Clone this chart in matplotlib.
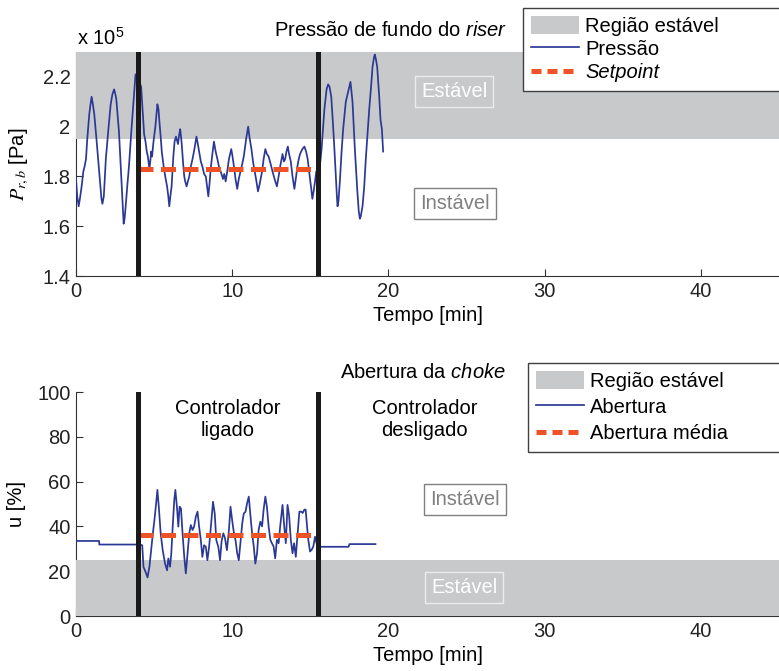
import matplotlib
matplotlib.use("Agg")
import matplotlib.pyplot as plt
from matplotlib.lines import Line2D
from matplotlib.patches import Patch

plt.rcParams["font.family"] = ["Liberation Sans", "DejaVu Sans"]
plt.rcParams["mathtext.fontset"] = "custom"
plt.rcParams["mathtext.rm"] = "Liberation Sans"
plt.rcParams["mathtext.it"] = "Liberation Sans:italic"

# riser bottom pressure [x 1e5 Pa] vs time [min]
t_p = [0.0, 0.08, 0.17, 0.25, 0.36, 0.47, 0.55, 0.64, 0.72, 0.85, 0.93, 1.0, 1.08, 1.17,
       1.31, 1.48, 1.63, 1.69, 1.78, 1.91, 2.06, 2.22, 2.33, 2.44, 2.52, 2.58, 2.75, 2.9,
       3.01, 3.05, 3.11, 3.18, 3.28, 3.39, 3.54, 3.69, 3.81, 3.9, 4.0, 4.11, 4.17, 4.28,
       4.36, 4.45, 4.53, 4.6, 4.66, 4.7, 4.77, 4.81, 4.87, 4.96, 5.08, 5.21, 5.28, 5.34,
       5.42, 5.49, 5.57, 5.66, 5.74, 5.83, 5.91, 5.97, 6.04, 6.12, 6.23, 6.31, 6.4, 6.53,
       6.61, 6.67, 6.74, 6.78, 6.86, 6.93, 6.99, 7.08, 7.16, 7.25, 7.35, 7.46, 7.58, 7.71,
       7.8, 7.88, 7.99, 8.09, 8.2, 8.31, 8.39, 8.47, 8.56, 8.62, 8.73, 8.83, 8.94, 9.05,
       9.15, 9.26, 9.41, 9.49, 9.58, 9.68, 9.79, 9.94, 10.02, 10.11, 10.21, 10.32, 10.42,
       10.53, 10.64, 10.74, 10.89, 11.02, 11.1, 11.23, 11.33, 11.44, 11.55, 11.65, 11.76,
       11.91, 12.01, 12.12, 12.22, 12.33, 12.46, 12.58, 12.71, 12.86, 12.97, 13.07, 13.22,
       13.31, 13.39, 13.47, 13.56, 13.64, 13.75, 13.86, 13.98, 14.09, 14.17, 14.26, 14.34,
       14.49, 14.62, 14.73, 14.83, 14.92, 14.98, 15.06, 15.13, 15.21, 15.3, 15.38, 15.5,
       15.61, 15.72, 15.9, 16.04, 16.14, 16.23, 16.34, 16.46, 16.55, 16.63, 16.7, 16.74,
       16.8, 16.89, 17.0, 17.1, 17.27, 17.42, 17.5, 17.57, 17.62, 17.7, 17.85, 18.0, 18.1,
       18.17, 18.23, 18.34, 18.45, 18.55, 18.77, 18.9, 18.98, 19.08, 19.13, 19.2, 19.28,
       19.41, 19.49, 19.58, 19.66]
p_rb = [1.79, 1.72, 1.68, 1.71, 1.76, 1.82, 1.84, 1.87, 1.95, 2.05, 2.09, 2.12, 2.09, 2.05,
        1.95, 1.82, 1.71, 1.69, 1.72, 1.87, 1.98, 2.09, 2.13, 2.15, 2.13, 2.11, 1.98, 1.8,
        1.66, 1.61, 1.63, 1.68, 1.76, 1.84, 1.98, 2.11, 2.21, 2.18, 2.19, 2.17, 2.16, 2.05,
        1.97, 1.94, 1.9, 1.88, 1.85, 1.83, 1.87, 1.9, 1.88, 1.94, 2.0, 2.09, 2.07, 2.02,
        1.96, 1.9, 1.86, 1.82, 1.79, 1.76, 1.72, 1.68, 1.72, 1.76, 1.88, 1.94, 1.96, 1.93,
        1.97, 1.99, 1.95, 1.92, 1.85, 1.8, 1.78, 1.76, 1.78, 1.8, 1.84, 1.87, 1.91, 1.96,
        1.93, 1.9, 1.86, 1.84, 1.81, 1.8, 1.76, 1.72, 1.78, 1.83, 1.89, 1.94, 1.9, 1.87,
        1.84, 1.82, 1.79, 1.81, 1.78, 1.82, 1.87, 1.91, 1.88, 1.84, 1.79, 1.75, 1.79,
        1.82, 1.85, 1.88, 1.95, 2.0, 1.96, 1.91, 1.86, 1.82, 1.78, 1.74, 1.77,
        1.82, 1.87, 1.91, 1.89, 1.88, 1.85, 1.82, 1.79, 1.76, 1.8, 1.84, 1.89,
        1.86, 1.87, 1.9, 1.92, 1.89, 1.86, 1.8, 1.75, 1.8, 1.84, 1.87, 1.89,
        1.91, 1.92, 1.9, 1.87, 1.82, 1.79, 1.75, 1.71, 1.74, 1.78, 1.82, 1.83,
        1.84, 1.91, 2.07, 2.15, 2.17, 2.16, 2.12, 2.0, 1.9, 1.8, 1.72, 1.68,
        1.7, 1.78, 1.9, 1.99, 2.1, 2.14, 2.16, 2.18, 2.15, 2.1, 1.91, 1.75, 1.66,
        1.63, 1.64, 1.68, 1.76, 1.87, 2.07, 2.17, 2.24, 2.28, 2.29, 2.27, 2.24,
        2.12, 2.03, 1.99, 1.9]
setpoint = 1.83

# choke opening u [%] vs time [min]
t_u = [0.0, 1.48, 1.49, 4.0, 4.24, 4.32, 4.41, 4.49, 4.58, 4.7, 4.81, 4.92, 5.02, 5.13,
       5.21, 5.3, 5.42, 5.55, 5.7, 5.83, 5.91, 6.02, 6.1, 6.19, 6.29, 6.36, 6.46, 6.55,
       6.63, 6.72, 6.82, 6.93, 7.03, 7.14, 7.25, 7.35, 7.46, 7.56, 7.67, 7.78, 7.88, 7.99,
       8.09, 8.2, 8.31, 8.41, 8.52, 8.67, 8.77, 8.88, 8.98, 9.11, 9.22, 9.32, 9.43, 9.53,
       9.66, 9.79, 9.89, 10.0, 10.11, 10.21, 10.32, 10.42, 10.53, 10.64, 10.74, 10.85,
       10.95, 11.06, 11.17, 11.27, 11.38, 11.48, 11.59, 11.69, 11.8, 11.91, 12.01, 12.12,
       12.22, 12.33, 12.44, 12.54, 12.65, 12.75, 12.86, 12.97, 13.07, 13.22, 13.33, 13.43,
       13.54, 13.64, 13.75, 13.86, 13.96, 14.07, 14.17, 14.3, 14.41, 14.51, 14.62, 14.7,
       14.79, 14.87, 14.98, 15.08, 15.19, 15.3, 15.45, 15.6, 17.45, 17.5, 19.17]
u_pct = [33.5, 33.5, 31.9, 31.9, 31.6, 21.9, 20.4, 19.0, 17.2, 22.0, 29.4, 36.9, 42.8, 50.3,
         56.3, 48.8, 36.9, 29.4, 23.4, 20.4, 25.7, 22.0, 27.9, 39.9, 51.8, 56.3, 48.8, 39.9,
         48.8, 48.0, 36.9, 26.4, 19.0, 27.9, 36.9, 40.6, 38.4, 39.9, 44.3, 46.6, 39.9, 33.9,
         26.4, 31.6, 30.9, 24.9, 30.9, 42.8, 51.0, 45.8, 33.9, 30.9, 24.9, 33.5, 36.9, 35.0,
         29.4, 38.4, 48.8, 42.5, 37.0, 33.9, 28.0, 24.9, 33.0, 41.3, 45.8, 46.5,
         50.3, 53.3, 44.5, 37.0, 31.0, 23.4, 28.0, 38.4, 42.1, 40.0, 47.5, 53.3,
         48.8, 40.0, 34.0, 32.5, 31.0, 25.7, 34.0, 32.5, 40.0, 49.6, 40.0, 32.5,
         49.6, 45.0, 34.0, 28.0, 32.5, 26.4, 35.4, 46.6, 46.6, 46.0, 47.5, 47.5,
         40.0, 34.0, 28.8, 29.5, 31.0, 35.4, 31.0, 30.9, 30.9, 32.1, 32.1]
u_mean = 36.0

switch_times = [4.0, 15.5]
stable_p = (1.95, 2.3)
stable_u = (0, 25)

gray = "#c8c9cb"
blue = "#2b3896"
red = "#ef5226"
fs = 14.5

fig = plt.figure(figsize=(7.79, 6.71), dpi=100)
ax1 = fig.add_axes([76 / 779, 1 - 276 / 671, 1 - 76 / 779, 224 / 671])
ax2 = fig.add_axes([76 / 779, 1 - 616 / 671, 1 - 76 / 779, 224 / 671])


def style_axis(ax):
    for side in ("top", "right"):
        ax.spines[side].set_visible(False)
    for side in ("left", "bottom"):
        ax.spines[side].set_color("#333333")
        ax.spines[side].set_linewidth(0.8)
    ax.tick_params(direction="in", length=5, width=0.8, color="#333333",
                   labelsize=fs, labelcolor="#222222", pad=4)
    ax.set_xlim(0, 45)
    ax.set_xticks([0, 10, 20, 30, 40])
    ax.set_xlabel("Tempo [min]", fontsize=fs, labelpad=4)


def boxed_label(ax, x, y, text, color, edge):
    ax.text(x, y, text, ha="center", va="center", fontsize=fs, color=color, zorder=6,
            bbox=dict(boxstyle="square,pad=0.3", facecolor="none", edgecolor=edge, linewidth=1))


# top: riser bottom pressure
style_axis(ax1)
ax1.axhspan(*stable_p, color=gray, lw=0, zorder=2.6)
ax1.plot(t_p, p_rb, color=blue, lw=1.25, zorder=4)
ax1.plot([switch_times[0], switch_times[1]], [setpoint, setpoint], color=red, lw=3.6,
         dashes=(3, 1.5), zorder=5)
for ts in switch_times:
    ax1.axvline(ts, color="#1a1a1a", lw=3.6, zorder=6)
ax1.set_ylim(1.4, 2.3)
ax1.set_yticks([1.4, 1.6, 1.8, 2.0, 2.2])
ax1.set_yticklabels(["1.4", "1.6", "1.8", "2", "2.2"])
ax1.set_ylabel(r"$P_{r,b}$ [Pa]", fontsize=fs, labelpad=8, math_fontfamily="stix")
boxed_label(ax1, 24.2, 2.143, "Estável", "white", "#ececec")
boxed_label(ax1, 24.25, 1.692, "Instável", "#808080", "#808080")
fig.text(77 / 779, 1 - 38 / 671, r"x 10$^{5}$", fontsize=fs, va="center", ha="left")
fig.text(507 / 779, 1 - 30 / 671, r"Pressão de fundo do $\mathit{riser}$", fontsize=fs,
         ha="right", va="center")

# bottom: choke opening
style_axis(ax2)
ax2.axhspan(*stable_u, color=gray, lw=0, zorder=2.6)
ax2.plot(t_u, u_pct, color=blue, lw=1.25, zorder=4)
ax2.plot([switch_times[0], switch_times[1]], [u_mean, u_mean], color=red, lw=3.6,
         dashes=(3, 1.5), zorder=5)
for ts in switch_times:
    ax2.axvline(ts, color="#1a1a1a", lw=3.6, zorder=6)
ax2.set_ylim(0, 100)
ax2.set_yticks([0, 20, 40, 60, 80, 100])
ax2.set_ylabel("u [%]", fontsize=fs, labelpad=8)
ax2.text(9.7, 87.5, "Controlador\nligado", ha="center", va="center", fontsize=fs)
ax2.text(22.3, 87.5, "Controlador\ndesligado", ha="center", va="center", fontsize=fs)
boxed_label(ax2, 24.9, 52.2, "Instável", "#808080", "#808080")
boxed_label(ax2, 24.85, 12.9, "Estável", "white", "#ececec")
fig.text(506 / 779, 1 - 372 / 671, r"Abertura da $\mathit{choke}$", fontsize=fs,
         ha="right", va="center")


def add_legend(labels, x0, ytop, spacing, italic_last=False):
    handles = [Patch(facecolor=gray, edgecolor="none"),
               Line2D([], [], color=blue, lw=1.25),
               Line2D([], [], color=red, lw=3.6, dashes=(2, 1.2))]
    leg = fig.legend(handles, labels, loc="upper left", mode="expand",
                     bbox_to_anchor=(x0 / 779, 1 - ytop / 671, (820 - x0) / 779, 0.001),
                     borderaxespad=0, fontsize=fs, frameon=True, fancybox=False,
                     framealpha=1, edgecolor="#404040", handlelength=2.4,
                     handleheight=0.95, handletextpad=0.3, labelspacing=spacing,
                     borderpad=0.4)
    leg.get_frame().set_linewidth(1)
    if italic_last:
        leg.get_texts()[-1].set_style("italic")
    return leg


add_legend(["Região estável", "Pressão", "Setpoint"], 523, 9, 0.18, italic_last=True)
add_legend(["Região estável", "Abertura", "Abertura média"], 528, 364, 0.33)

fig.savefig("out.png", dpi=100)
